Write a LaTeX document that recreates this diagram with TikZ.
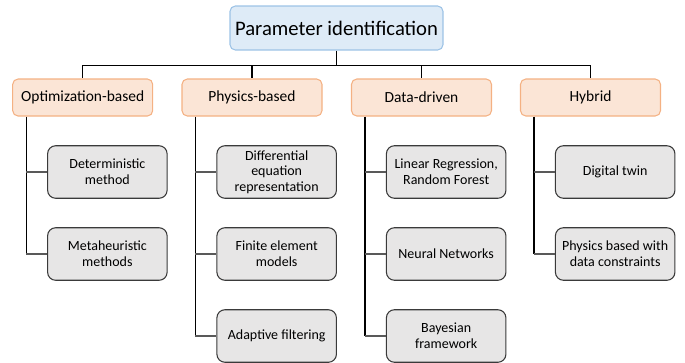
\documentclass[tikz,border=0pt]{standalone}
\usepackage{fontspec}
\setmainfont{Carlito}
\usetikzlibrary{positioning}

\definecolor{rootfill}{HTML}{DEEBF7}
\definecolor{rootline}{HTML}{9DC3E6}
\definecolor{catfill}{HTML}{FBE5D6}
\definecolor{catline}{HTML}{F4B183}
\definecolor{leaffill}{HTML}{E7E6E6}
\definecolor{leafline}{HTML}{3A3A3A}

\tikzset{
  rootbox/.style={draw=rootline, fill=rootfill, rounded corners=4pt, line width=0.8pt,
    minimum width=159.75pt, minimum height=33pt, inner sep=0pt,
    font=\fontsize{15.5}{18}\selectfont},
  catbox/.style={draw=catline, fill=catfill, rounded corners=4pt, line width=0.8pt,
    minimum width=105pt, minimum height=27.75pt, inner sep=0pt,
    font=\fontsize{11.6}{13.5}\selectfont},
  leafbox/.style={draw=leafline, fill=leaffill, rounded corners=6pt, line width=0.8pt,
    minimum width=89.6pt, minimum height=39.4pt, inner sep=0pt, align=center,
    font=\fontsize{10.5}{11.8}\selectfont},
  link/.style={draw=black, line width=0.9pt},
  stub/.style={draw=black!65, line width=0.9pt}
}

\begin{document}
\begin{tikzpicture}[x=0.75pt,y=-0.75pt,node distance=61.5pt,on grid]
\useasboundingbox (0,0) rectangle (685,362);

\node[rootbox] (root) at (336.5,28) {Parameter identification};

\node[catbox] (opt)  at (82.7,97.5)  {Optimization-based};
\node[catbox] (phys) at (252,97.5)   {Physics-based};
\node[catbox] (data) at (421.5,97.5) {Data-driven};
\node[catbox] (hyb)  at (590.5,97.5) {Hybrid};

% leaves
\node[leafbox] (det)  [below right=55.875pt and 18.5pt of opt] {Deterministic\\method};
\node[leafbox] (meta) [below=of det] {Metaheuristic\\methods};

\node[leafbox] (diff) [below right=55.875pt and 18.5pt of phys] {Differential\\equation\\representation};
\node[leafbox] (fem)  [below=of diff] {Finite element\\models};
\node[leafbox] (adapt) [below=of fem] {Adaptive filtering};

\node[leafbox] (linreg) [below right=55.875pt and 18.5pt of data] {Linear Regression,\\Random Forest};
\node[leafbox] (nn)   [below=of linreg] {Neural Networks};
\node[leafbox] (bayes) [below=of nn] {Bayesian\\framework};

\node[leafbox] (twin) [below right=55.875pt and 18.5pt of hyb] {Digital twin};
\node[leafbox] (pbdc) [below=of twin] {Physics based with\\data constraints};

% connectors
\draw[link] (root.south) -- ++(0,15) coordinate (bus);
\foreach \c in {opt,phys,data,hyb}
  \draw[link] (bus) -| (\c.north);

\foreach \c/\l in {opt/meta,phys/adapt,data/bayes,hyb/pbdc}
  \draw[link] ([xshift=10.5pt]\c.south west) -- ([xshift=10.5pt]\c.south west |- \l.west);

\foreach \c/\l in {opt/det,opt/meta,phys/diff,phys/fem,phys/adapt,data/linreg,data/nn,data/bayes,hyb/twin,hyb/pbdc}
  \draw[stub] ([xshift=10.5pt]\c.south west |- \l.west) -- (\l.west);

\end{tikzpicture}
\end{document}
